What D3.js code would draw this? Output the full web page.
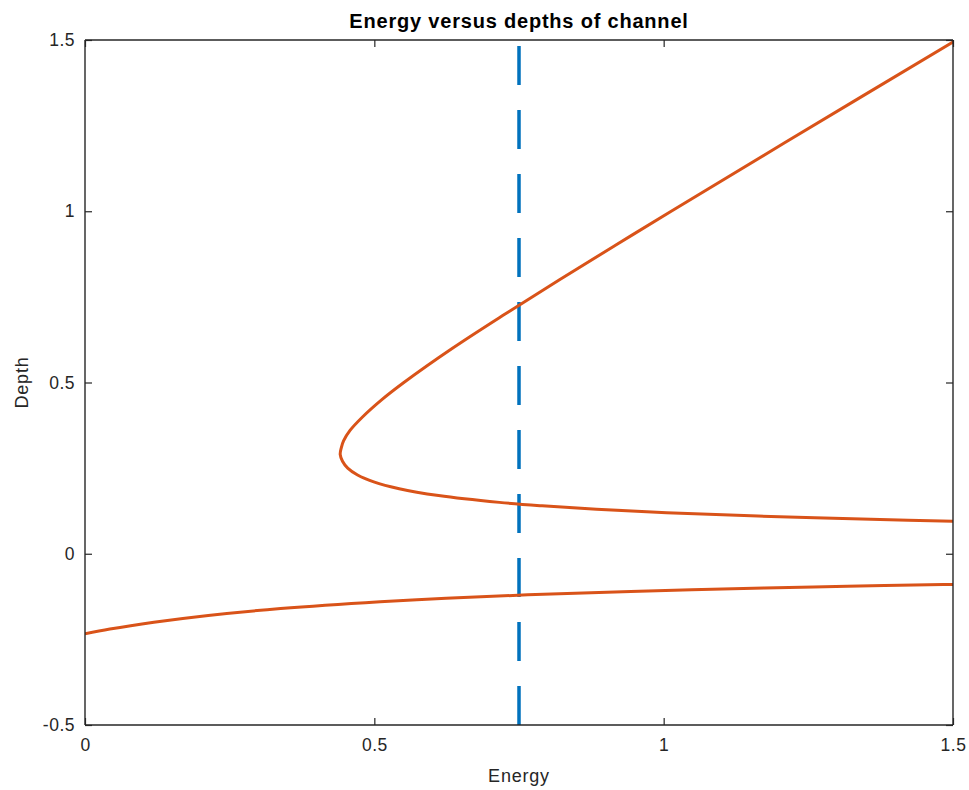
<!DOCTYPE html>
<html>
<head>
<meta charset="utf-8">
<script src="https://cdn.jsdelivr.net/npm/d3@7"></script>
<style>
	body { margin: 0; background: #fff; }
	svg { display: block; font-family: "Liberation Sans", Arial, Helvetica, sans-serif; }
</style>
</head>
<body>
<svg id="chart" width="969" height="790"></svg>
<script>
/*
	Energy versus depths of channel
	specific energy curve, plus the dashed E = 0.75 marker
*/

// upper branch (positive depths), energy / depth pairs
const upperEnergy = [1.507, 1.374, 1.163, 1.005, 0.884, 0.790, 0.716, 0.611, 0.543, 0.499, 0.471, 0.454, 0.445, 0.441, 0.443, 0.447, 0.458, 0.480, 0.513, 0.551, 0.635, 0.726, 0.820, 0.916, 1.013, 1.209, 1.506];
const upperDepth  = [0.095, 0.100, 0.110, 0.120, 0.130, 0.140, 0.150, 0.170, 0.190, 0.210, 0.230, 0.250, 0.270, 0.290, 0.310, 0.330, 0.360, 0.400, 0.450, 0.500, 0.600, 0.700, 0.800, 0.900, 1.000, 1.200, 1.500];

// lower branch (negative depths)
const lowerEnergy = [0.000, 0.043, 0.119, 0.213, 0.338, 0.510, 0.624, 0.765, 0.943, 1.174, 1.317, 1.483, 1.519];
const lowerDepth  = [-0.234, -0.220, -0.200, -0.180, -0.160, -0.140, -0.130, -0.120, -0.110, -0.100, -0.095, -0.090, -0.089];

// dashed marker line
const markEnergy = [0.75, 0.75];
const markDepth  = [-0.5, 1.5];

const xTicks = [0, 0.5, 1, 1.5];
const yTicks = [-0.5, 0, 0.5, 1, 1.5];

const AXIS = "#262626";
const ORANGE = "#D95319";
const BLUE = "#0072BD";

var svg = d3.select("#chart");
// plot box (note: "top" is taken by window.top, so use pTop etc)
var pLeft = 85, pRight = 953, pTop = 40, pBottom = 725;

var x = d3.scaleLinear().domain([0, 1.5]).range([pLeft, pRight]);
var y = d3.scaleLinear().domain([-0.5, 1.5]).range([pBottom, pTop]);

svg.append("clipPath").attr("id", "plotclip")
	.append("rect")
	.attr("x", pLeft).attr("y", pTop)
	.attr("width", pRight - pLeft).attr("height", pBottom - pTop);

var plot = svg.append("g").attr("clip-path", "url(#plotclip)");

function zipPts(es, ds){
	return es.map((e, i) => [e, ds[i]]);
}

var line = d3.line()
	.x(d => x(d[0]))
	.y(d => y(d[1]))
	.curve(d3.curveCatmullRom.alpha(0.5));

// dashed marker
plot.append("path")
	.datum(zipPts(markEnergy, markDepth))
	.attr("d", d3.line().x(d => x(d[0])).y(d => y(d[1])))
	.attr("fill", "none")
	.attr("stroke", BLUE)
	.attr("stroke-width", 3.5)
	.attr("stroke-dasharray", "39,25");

[zipPts(upperEnergy, upperDepth), zipPts(lowerEnergy, lowerDepth)].forEach(pts => {
	plot.append("path")
		.datum(pts)
		.attr("d", line)
		.attr("fill", "none")
		.attr("stroke", ORANGE)
		.attr("stroke-width", 3)
		.attr("stroke-linejoin", "round");
});

// axes, MATLAB box style: ticks inward on all four sides
var tickLen = 7;
var fmt = d => String(d);   // plain hyphen minus like matlab
var xAxisB = d3.axisBottom(x).tickValues(xTicks).tickSize(-tickLen).tickPadding(14).tickFormat(fmt);
var xAxisT = d3.axisTop(x).tickValues(xTicks).tickSize(-tickLen).tickFormat("");
var yAxisL = d3.axisLeft(y).tickValues(yTicks).tickSize(-tickLen).tickPadding(10).tickFormat(fmt);
var yAxisR = d3.axisRight(y).tickValues(yTicks).tickSize(-tickLen).tickFormat("");

function styleAxis(g){
	g.select(".domain").attr("stroke", AXIS).attr("stroke-width", 1.4);
	g.selectAll(".tick line").attr("stroke", AXIS).attr("stroke-width", 1.2);
	g.selectAll(".tick text")
		.attr("fill", AXIS)
		.style("font-size", "17.5px")
		.style("letter-spacing", "0.5px")
		.style("font-family", "'Liberation Sans', Arial, sans-serif");
}

svg.append("g").attr("transform", `translate(0,${pBottom})`).call(xAxisB).call(styleAxis).call(g => g.select(".domain").attr("d", `M${pLeft},0H${pRight}`));
svg.append("g").attr("transform", `translate(0,${pTop})`).call(xAxisT).call(styleAxis).call(g => g.select(".domain").attr("d", `M${pLeft},0H${pRight}`));
svg.append("g").attr("transform", `translate(${pLeft},0)`).call(yAxisL).call(styleAxis).call(g => g.select(".domain").attr("d", `M0,${pBottom}V${pTop}`));
svg.append("g").attr("transform", `translate(${pRight},0)`).call(yAxisR).call(styleAxis).call(g => g.select(".domain").attr("d", `M0,${pBottom}V${pTop}`));

// title and labels
svg.append("text")
	.attr("x", (pLeft + pRight) / 2).attr("y", 28)
	.attr("text-anchor", "middle")
	.attr("fill", "#000")
	.style("font-size", "20px")
	.style("font-weight", "bold")
	.style("letter-spacing", "0.8px")
	.text("Energy versus depths of channel");

svg.append("text")
	.attr("x", (pLeft + pRight) / 2).attr("y", 782)
	.attr("text-anchor", "middle")
	.attr("fill", AXIS)
	.style("font-size", "18px")
	.style("letter-spacing", "0.8px")
	.text("Energy");

svg.append("text")
	.attr("transform", `translate(28,${(pTop + pBottom) / 2}) rotate(-90)`)
	.attr("text-anchor", "middle")
	.attr("fill", AXIS)
	.style("font-size", "18px")
	.style("letter-spacing", "0.8px")
	.text("Depth");
</script>
</body>
</html>
